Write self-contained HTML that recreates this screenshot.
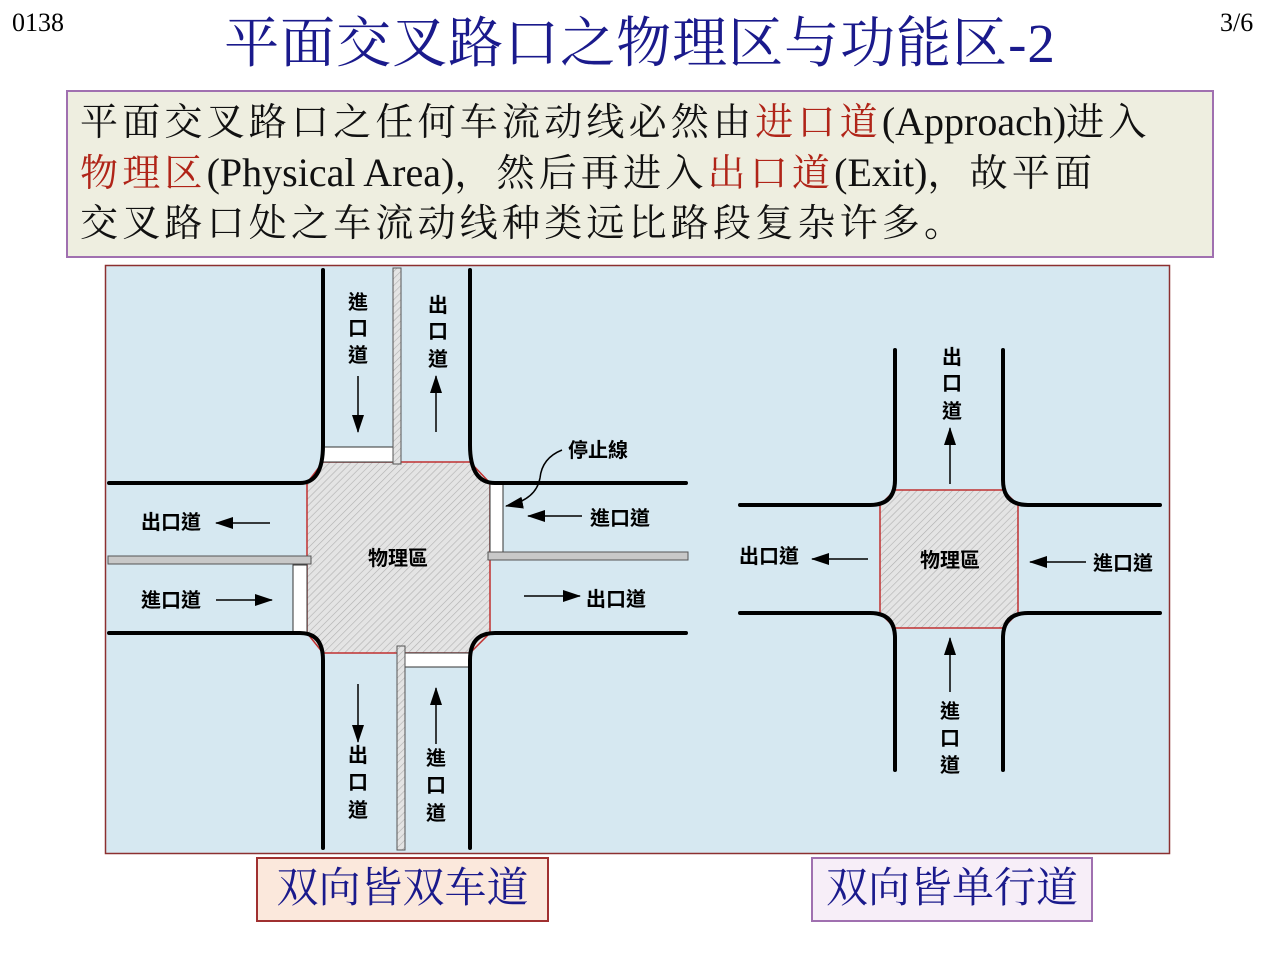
<!DOCTYPE html>
<html><head><meta charset="utf-8"><style>
body{margin:0;width:1280px;height:960px;background:#fff;position:relative;overflow:hidden;font-family:"Liberation Serif","Noto Serif CJK SC",serif}
.abs{position:absolute;white-space:nowrap}
.red{color:#b02418}
.l{letter-spacing:0;font-size:40px}
</style></head><body>
<div class="abs" style="left:12px;top:8px;font-size:26px">0138</div>
<div class="abs" style="left:1220px;top:8px;font-size:26px">3/6</div>
<div class="abs" style="left:0;width:1280px;text-align:center;top:10px;font-size:55px;color:#1a1a8c;line-height:68px;letter-spacing:1px">平面交叉路口之物理区与功能区-2</div>
<div class="abs" style="left:66px;top:90px;width:1148px;height:168px;background:#eeeee0;border:2px solid #a070b0;box-sizing:border-box"></div>
<div class="abs" style="left:80px;top:97px;font-size:38px;line-height:50px;color:#111;letter-spacing:4.2px">平面交叉路口之任何车流动线必然由<span class="red">进口道</span><span class="l">(Approach)</span>进入<br><span class="red">物理区</span><span class="l">(Physical Area)</span>，然后再进入<span class="red">出口道</span><span class="l">(Exit)</span>，故平面<br>交叉路口处之车流动线种类远比路段复杂许多。</div>

<svg class="abs" style="left:0;top:0" width="1280" height="960" font-family="Liberation Sans,Noto Sans CJK TC,sans-serif">
<defs>
<pattern id="h" width="5" height="5" patternUnits="userSpaceOnUse" patternTransform="rotate(45)"><rect width="5" height="5" fill="#e4e4e4"/><line x1="0" y1="0" x2="0" y2="5" stroke="#b0b0b0" stroke-width="1.2"/></pattern>
<marker id="a" markerWidth="18" markerHeight="12" refX="17" refY="6" orient="auto" markerUnits="userSpaceOnUse"><path d="M0,0L18,6L0,12z" fill="#000"/></marker>
</defs>
<rect x="105.5" y="265.5" width="1064" height="588" fill="#d6e8f1" stroke="#8c3030" stroke-width="1.5"/>
<path d="M323,462 L470,462 L490,483 L490,633 L470,653 L323,653 L307,633 L307,483 Z" fill="url(#h)" stroke="#c03030" stroke-width="1.5"/>
<rect x="323" y="447" width="70" height="15" fill="#fff" stroke="#333" stroke-width="1"/>
<rect x="490" y="483" width="13" height="70" fill="#fff" stroke="#333" stroke-width="1"/>
<rect x="293" y="565" width="14" height="68" fill="#fff" stroke="#333" stroke-width="1"/>
<rect x="400" y="653" width="70" height="14" fill="#fff" stroke="#333" stroke-width="1"/>
<rect x="393" y="268" width="8" height="196" fill="url(#h)" stroke="#555" stroke-width="1"/>
<rect x="397" y="646" width="8" height="204" fill="url(#h)" stroke="#555" stroke-width="1"/>
<rect x="108" y="556" width="203" height="8" fill="#c8c8c8" stroke="#555" stroke-width="1"/>
<rect x="488" y="552" width="200" height="8" fill="#c8c8c8" stroke="#555" stroke-width="1"/>
<g fill="none" stroke="#000" stroke-width="4" stroke-linecap="round">
<path d="M323,270 L323,445 Q323,483 300,483 L109,483"/>
<path d="M470,270 L470,445 Q470,483 495,483 L686,483"/>
<path d="M109,633 L300,633 Q323,633 323,660 L323,848"/>
<path d="M686,633 L495,633 Q470,633 470,660 L470,848"/>
</g>
<g stroke="#000" stroke-width="1.5">
<line x1="358" y1="376" x2="358" y2="432" marker-end="url(#a)"/>
<line x1="436" y1="432" x2="436" y2="376" marker-end="url(#a)"/>
<line x1="270" y1="523" x2="216" y2="523" marker-end="url(#a)"/>
<line x1="216" y1="600" x2="272" y2="600" marker-end="url(#a)"/>
<line x1="582" y1="516" x2="528" y2="516" marker-end="url(#a)"/>
<line x1="524" y1="596" x2="580" y2="596" marker-end="url(#a)"/>
<line x1="358" y1="684" x2="358" y2="742" marker-end="url(#a)"/>
<line x1="436" y1="744" x2="436" y2="688" marker-end="url(#a)"/>
<path d="M562,450 Q542,458 540,478 Q536,500 506,506" fill="none" marker-end="url(#a)"/>
</g>
<g font-size="20" fill="#000" font-weight="bold">
<text x="358" y="309" text-anchor="middle">進</text><text x="358" y="335" text-anchor="middle">口</text><text x="358" y="362" text-anchor="middle">道</text>
<text x="438" y="312" text-anchor="middle">出</text><text x="438" y="338" text-anchor="middle">口</text><text x="438" y="366" text-anchor="middle">道</text>
<text x="358" y="762" text-anchor="middle">出</text><text x="358" y="789" text-anchor="middle">口</text><text x="358" y="817" text-anchor="middle">道</text>
<text x="436" y="765" text-anchor="middle">進</text><text x="436" y="792" text-anchor="middle">口</text><text x="436" y="820" text-anchor="middle">道</text>
<text x="141" y="529">出口道</text>
<text x="141" y="607">進口道</text>
<text x="590" y="525">進口道</text>
<text x="586" y="606">出口道</text>
<text x="568" y="457">停止線</text>
<text x="398" y="565" text-anchor="middle">物理區</text>
</g>
<path d="M895,490 L1003,490 L1018,505 L1018,613 L1003,628 L895,628 L880,613 L880,505 Z" fill="url(#h)" stroke="#c03030" stroke-width="1.5"/>
<g fill="none" stroke="#000" stroke-width="4" stroke-linecap="round">
<path d="M895,350 L895,480 Q895,505 870,505 L740,505"/>
<path d="M1003,350 L1003,480 Q1003,505 1028,505 L1160,505"/>
<path d="M740,613 L870,613 Q895,613 895,638 L895,770"/>
<path d="M1160,613 L1028,613 Q1003,613 1003,638 L1003,770"/>
</g>
<g stroke="#000" stroke-width="1.5">
<line x1="950" y1="484" x2="950" y2="428" marker-end="url(#a)"/>
<line x1="950" y1="692" x2="950" y2="638" marker-end="url(#a)"/>
<line x1="868" y1="559" x2="812" y2="559" marker-end="url(#a)"/>
<line x1="1086" y1="562" x2="1030" y2="562" marker-end="url(#a)"/>
</g>
<g font-size="20" fill="#000" font-weight="bold">
<text x="952" y="364" text-anchor="middle">出</text><text x="952" y="390" text-anchor="middle">口</text><text x="952" y="418" text-anchor="middle">道</text>
<text x="950" y="718" text-anchor="middle">進</text><text x="950" y="745" text-anchor="middle">口</text><text x="950" y="772" text-anchor="middle">道</text>
<text x="739" y="563">出口道</text>
<text x="1093" y="570">進口道</text>
<text x="950" y="567" text-anchor="middle">物理區</text>
</g>
</svg>

<div class="abs" style="left:256px;top:857px;width:293px;height:65px;background:#fbe8dc;border:2px solid #a03030;box-sizing:border-box;text-align:center;font-size:42px;line-height:60px;color:#1a1a8c">双向皆双车道</div>
<div class="abs" style="left:811px;top:857px;width:282px;height:65px;background:#f7eef8;border:2px solid #a070b0;box-sizing:border-box;text-align:center;font-size:42px;line-height:60px;color:#1a1a8c">双向皆单行道</div>
</body></html>
